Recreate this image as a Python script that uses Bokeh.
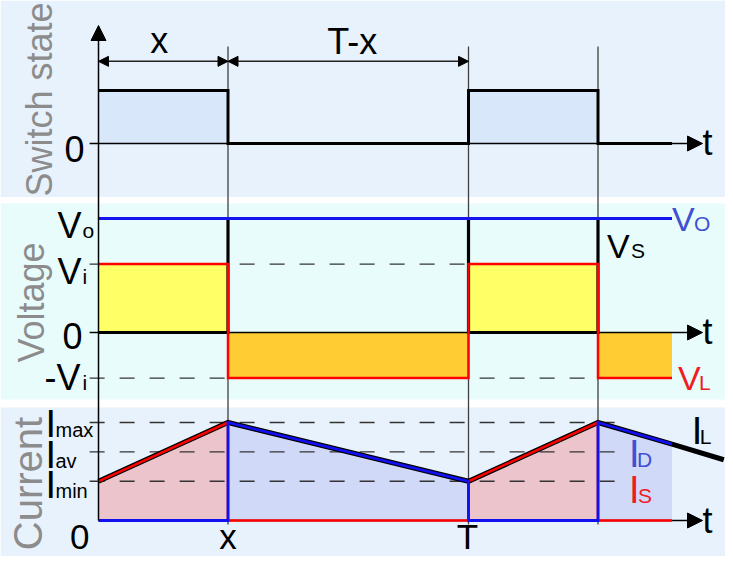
import math
from bokeh.plotting import figure
from bokeh.models import Range1d, Arrow, NormalHead
from bokeh.core.properties import value
from bokeh.embed import file_html
from bokeh.resources import INLINE

# ---------------- data ----------------
PERIOD = 1.0                      # T
ON_TIME = 0.35                    # x
T_END = 1.55                      # end of drawn waveforms
EVENTS = [0.0, 0.35, 1.0, 1.35, 1.55]      # interval boundaries
SWITCH_ON = [True, False, True, False]     # switch state per interval
SWITCH_LEVEL = [1, 0, 1, 0]

V_OUT = 1.0                       # Vo
V_IN = 0.6                        # Vi
V_NEG = -0.4                      # "-Vi" level (L voltage in off phase)
VS_LEVEL = [0.0, 1.0, 0.0, 1.0]   # switch voltage per interval
VL_LEVEL = [0.6, -0.4, 0.6, -0.4] # inductor voltage per interval

I_MIN, I_AV, I_MAX = 0.4, 0.7, 1.0
IL_T = [0.0, 0.35, 1.0, 1.35, 1.55, 1.69]
IL_V = [0.4, 1.0, 0.4, 1.0, 0.78, 0.62]

# ---------------- layout constants ----------------
W, H = 725, 556
ORIGIN_PX = 98
PX_PER_T = 370.0
SW_ZERO_PX, SW_SCALE = 143, 53.0
V_ZERO_PX, V_SCALE = 332, 114.0
I_ZERO_PX, I_SCALE = 520, 98.0
T_ARROW = (702 - ORIGIN_PX) / PX_PER_T
TICK = 0.024
DIM_LEVEL = 1.55
FONT = "Liberation Sans"
GREY = "#8c8c8c"
BLUE_TXT = "#4050d0"
RED_TXT = "#f01c24"
BASE_FIX = 0.33          # empirical baseline correction (em)

p = figure(width=W, height=H,
           x_range=Range1d(0, W), y_range=Range1d(H, 0),
           x_axis_type=None, y_axis_type=None, toolbar_location=None,
           output_backend="svg", min_border=0, outline_line_color=None,
           background_fill_color="white", border_fill_color="white")
p.extra_x_ranges = {"time": Range1d(-ORIGIN_PX / PX_PER_T, (W - ORIGIN_PX) / PX_PER_T)}
p.extra_y_ranges = {
    "sw": Range1d((SW_ZERO_PX - H) / SW_SCALE, SW_ZERO_PX / SW_SCALE),
    "volt": Range1d((V_ZERO_PX - H) / V_SCALE, V_ZERO_PX / V_SCALE),
    "cur": Range1d((I_ZERO_PX - H) / I_SCALE, I_ZERO_PX / I_SCALE),
}

# panel backgrounds (pixel layout)
p.quad(left=[0, 0, 0], right=[731, 731, 731], top=[0, 203, 407], bottom=[196.5, 399, 570],
       color=["#e8f2fc", "#e8fcfc", "#e8f2fc"], line_color=None)

starts, ends = EVENTS[:-1], EVENTS[1:]

def step(levels):
    xs, ys = [], []
    for a, b, v in zip(starts, ends, levels):
        xs += [a, b]
        ys += [v, v]
    return xs, ys

# ---- fills ----
on_l = [a for a, on in zip(starts, SWITCH_ON) if on]
on_r = [b for b, on in zip(ends, SWITCH_ON) if on]
p.quad(left=on_l, right=on_r, bottom=0, top=1, color="#d8e8fa", line_color=None,
       x_range_name="time", y_range_name="sw")

p.quad(left=starts, right=ends,
       bottom=[min(0, v) for v in VL_LEVEL], top=[max(0, v) for v in VL_LEVEL],
       color=["#ffff66" if v > 0 else "#ffcc33" for v in VL_LEVEL], line_color=None,
       x_range_name="time", y_range_name="volt")

for i, on in enumerate(SWITCH_ON):
    p.varea(x=[EVENTS[i], EVENTS[i + 1]], y1=[0, 0], y2=[IL_V[i], IL_V[i + 1]],
            color="#ecc4cc" if on else "#d0d9f8", x_range_name="time", y_range_name="cur")

# ---- guide lines ----
p.segment(x0=EVENTS[1:4], x1=EVENTS[1:4], y0=46, y1=524, line_color="#404040",
          line_width=1.3, x_range_name="time")

# ---- dashed levels ----
p.segment(x0=[-TICK, -TICK], x1=[1.26, 1.35], y0=[V_IN, V_NEG], y1=[V_IN, V_NEG],
          line_color="#333333", line_width=1.4, line_dash="15 15",
          x_range_name="time", y_range_name="volt")
p.segment(x0=-TICK, x1=1.424, y0=[I_MAX, I_AV, I_MIN], y1=[I_MAX, I_AV, I_MIN],
          line_color="#333333", line_width=1.4, line_dash="15 15",
          x_range_name="time", y_range_name="cur")

# ---- axis baselines ----
p.segment(x0=-TICK, x1=T_END, y0=0, y1=0, line_color="black", line_width=1.5,
          x_range_name="time", y_range_name="sw")
p.segment(x0=-TICK, x1=T_END, y0=0, y1=0, line_color="black", line_width=1.5,
          x_range_name="time", y_range_name="volt")
p.segment(x0=0, x1=T_END, y0=0, y1=0, line_color="black", line_width=1.5,
          x_range_name="time", y_range_name="cur")

# ---- waveforms ----
xs, ys = step(SWITCH_LEVEL)
p.line(xs, ys, line_color="black", line_width=3, line_join="miter",
       x_range_name="time", y_range_name="sw")

xs, ys = step(VS_LEVEL)
p.line(xs, ys, line_color="black", line_width=3.2, line_join="miter",
       x_range_name="time", y_range_name="volt")
xs, ys = step(VL_LEVEL)
p.line(xs, ys, line_color="#ff0000", line_width=2.5, line_join="miter",
       x_range_name="time", y_range_name="volt")
p.line([0, T_END], [V_OUT, V_OUT], line_color="#1414ee", line_width=3,
       x_range_name="time", y_range_name="volt")

p.line(IL_T, IL_V, line_color="black", line_width=5, line_join="miter",
       x_range_name="time", y_range_name="cur")
is_x, is_y, id_x, id_y = [], [], [], []
for i, on in enumerate(SWITCH_ON):
    a, b = EVENTS[i], EVENTS[i + 1]
    ramp = [IL_V[i], IL_V[i + 1]]
    is_x += [a, b]
    id_x += [a, b]
    is_y += ramp if on else [0, 0]
    id_y += [0, 0] if on else ramp
p.line(is_x, is_y, line_color="#ff0000", line_width=2.5, line_join="miter",
       x_range_name="time", y_range_name="cur")
p.line(id_x, id_y, line_color="#1010f0", line_width=2.8, line_join="miter",
       x_range_name="time", y_range_name="cur")

# ---- texts ----
def txt(x, y, s, yr, size, color="black", align="left", dx=0, dy=0, xr="time",
        rotated=False):
    fix = BASE_FIX * size
    if rotated:
        dx -= fix
    else:
        dy -= fix
    p.text(x=[x], y=[y], text=[s], x_range_name=xr, y_range_name=yr,
           text_font=value(FONT), text_font_size="%gpx" % size, text_color=color,
           text_align=align, text_baseline="alphabetic", x_offset=dx, y_offset=dy,
           angle=math.pi / 2 if rotated else 0.0)

BIG, SUB, IBIG = 36, 21, 38

# panel titles
txt(51, 99, "Switch state", "default", 36, GREY, "center", xr="default", rotated=True)
txt(43, 302, "Voltage", "default", 36, GREY, "center", xr="default", rotated=True)
txt(41, 483, "Current", "default", 40, GREY, "center", xr="default", rotated=True)

# switch panel
txt(0, 0, "0", "sw", BIG, align="right", dx=-14, dy=17)
txt(T_ARROW, 0, "t", "sw", BIG, dx=0, dy=11)
txt(ON_TIME / 2, DIM_LEVEL, "x", "sw", BIG, align="center", dx=-4, dy=-9)
txt((ON_TIME + PERIOD) / 2, DIM_LEVEL, "T-x", "sw", BIG, align="center", dx=4, dy=-8)

# voltage panel
txt(0, V_OUT, "V", "volt", BIG, dx=-41, dy=19)
txt(0, V_OUT, "o", "volt", SUB, dx=-16, dy=19)
txt(0, V_IN, "V", "volt", BIG, dx=-41, dy=19)
txt(0, V_IN, "i", "volt", SUB, dx=-16, dy=19)
txt(0, 0, "0", "volt", BIG, align="right", dx=-16, dy=15)
txt(0, V_NEG, "-V", "volt", BIG, dx=-54, dy=11)
txt(0, V_NEG, "i", "volt", SUB, dx=-16, dy=11)
txt(T_ARROW, 0, "t", "volt", BIG, dy=11)
txt(T_END, V_OUT, "V", "volt", 34, BLUE_TXT, dx=0, dy=12)
txt(T_END, V_OUT, "O", "volt", SUB, BLUE_TXT, dx=22, dy=12)
txt(PERIOD + ON_TIME, V_OUT, "V", "volt", 34, dx=9, dy=39)
txt(PERIOD + ON_TIME, V_OUT, "S", "volt", SUB, dx=33, dy=39)
txt(T_END, V_NEG, "V", "volt", 34, RED_TXT, dx=6, dy=11)
txt(T_END, V_NEG, "L", "volt", SUB, RED_TXT, dx=27, dy=11)

# current panel
for lvl, sub, dy in [(I_MAX, "max", 14), (I_AV, "av", 16), (I_MIN, "min", 16)]:
    txt(0, lvl, "I", "cur", IBIG, dx=-53, dy=dy)
    txt(0, lvl, sub, "cur", 20, dx=-43, dy=dy)
txt(0, 0, "0", "cur", 35, align="right", dx=-9, dy=28)
txt(ON_TIME, 0, "x", "cur", 35, align="center", dy=28)
txt(PERIOD, 0, "T", "cur", 35, align="center", dx=-1, dy=28)
txt(T_ARROW, 0, "t", "cur", BIG, dy=12)
txt(IL_T[-1], IL_V[-1], "I", "cur", IBIG, dx=-32, dy=-16)
txt(IL_T[-1], IL_V[-1], "L", "cur", SUB, dx=-24, dy=-16)
txt(T_END, I_AV, "I", "cur", IBIG, BLUE_TXT, dx=-43, dy=15)
txt(T_END, I_AV, "D", "cur", SUB, BLUE_TXT, dx=-35, dy=15)
txt(T_END, I_MIN, "I", "cur", IBIG, RED_TXT, dx=-43, dy=21)
txt(T_END, I_MIN, "S", "cur", SUB, RED_TXT, dx=-34, dy=21)

# ---- arrows ----
def head(s):
    return NormalHead(size=s, fill_color="black", line_color="black", line_width=1)

for yr in ["sw", "volt", "cur"]:
    p.add_layout(Arrow(end=head(15), x_start=T_END, x_end=T_ARROW, y_start=0, y_end=0,
                       line_width=1.5, line_color="black",
                       x_range_name="time", y_range_name=yr))
p.add_layout(Arrow(end=head(15), x_start=0, x_end=0, y_start=I_ZERO_PX, y_end=25,
                   line_width=1.5, line_color="black", x_range_name="time"))
for a, b in [(EVENTS[0], EVENTS[1]), (EVENTS[1], EVENTS[2])]:
    p.add_layout(Arrow(start=head(10), end=head(10), x_start=a, x_end=b,
                       y_start=DIM_LEVEL, y_end=DIM_LEVEL, line_width=1.5,
                       line_color="#222222", x_range_name="time", y_range_name="sw"))

open("out.html", "w").write(file_html(p, INLINE))
